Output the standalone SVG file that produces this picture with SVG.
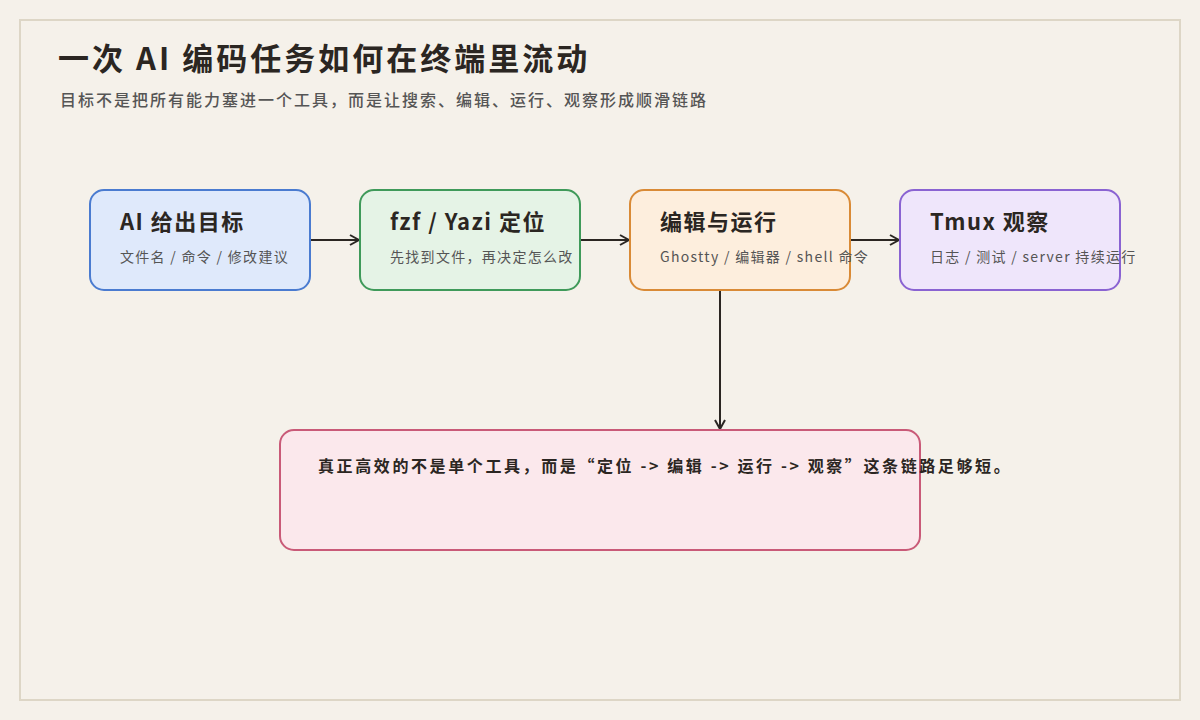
<svg xmlns="http://www.w3.org/2000/svg" width="1200" height="720" viewBox="0 0 1200 720">
<style>
text{font-family:"Noto Sans CJK SC","Noto Sans",sans-serif;fill:#2b2622}
.t{font-size:22px;font-weight:bold;letter-spacing:1.5px}
.s{font-size:14px;fill:#555;letter-spacing:1.3px}
.box{stroke-width:2}
.c{stroke:#2b2622;stroke-width:2;fill:none;marker-end:url(#a)}
</style>
<defs><marker id="a" markerWidth="12" markerHeight="12" refX="10" refY="6" orient="auto" markerUnits="userSpaceOnUse"><path d="M1,1 L10,6 L1,11" fill="none" stroke="#2b2622" stroke-width="2"/></marker></defs>
<rect width="1200" height="720" fill="#f5f1ea"/>
<rect x="20" y="20" width="1160" height="680" fill="none" stroke="#ddd6c6" stroke-width="2"/>
<text x="58" y="70" font-size="31" font-weight="bold" letter-spacing="3">一次 AI 编码任务如何在终端里流动</text>
<text x="60" y="106" font-size="16" font-weight="500" style="fill:#555" letter-spacing="2">目标不是把所有能力塞进一个工具，而是让搜索、编辑、运行、观察形成顺滑链路</text>
<g id="connectors">
<path class="c" d="M310,240 H359"/>
<path class="c" d="M580,240 H629"/>
<path class="c" d="M850,240 H899"/>
<path class="c" d="M720,290 V429"/>
</g>
<g id="n1"><rect class="box" x="90" y="190" width="220" height="100" rx="14" fill="#dfe9fb" stroke="#4a7bd0"/><text class="t" x="120" y="230">AI 给出目标</text><text class="s" x="120" y="262">文件名 / 命令 / 修改建议</text></g>
<g id="n2"><rect class="box" x="360" y="190" width="220" height="100" rx="14" fill="#e5f3e6" stroke="#3f9a5a"/><text class="t" x="390" y="230">fzf / Yazi 定位</text><text class="s" x="390" y="262">先找到文件，再决定怎么改</text></g>
<g id="n3"><rect class="box" x="630" y="190" width="220" height="100" rx="14" fill="#fdeedd" stroke="#d98a36"/><text class="t" x="660" y="230">编辑与运行</text><text class="s" x="660" y="262">Ghostty / 编辑器 / shell 命令</text></g>
<g id="n4"><rect class="box" x="900" y="190" width="220" height="100" rx="14" fill="#efe6fb" stroke="#8a63d2"/><text class="t" x="930" y="230">Tmux 观察</text><text class="s" x="930" y="262">日志 / 测试 / server 持续运行</text></g>
<g id="n5"><rect class="box" x="280" y="430" width="640" height="120" rx="14" fill="#fbe8ec" stroke="#c95a78"/><text x="318" y="472" font-size="16" font-weight="bold" letter-spacing="2.6">真正高效的不是单个工具，而是“定位 -&gt; 编辑 -&gt; 运行 -&gt; 观察”这条链路足够短。</text></g>
</svg>
